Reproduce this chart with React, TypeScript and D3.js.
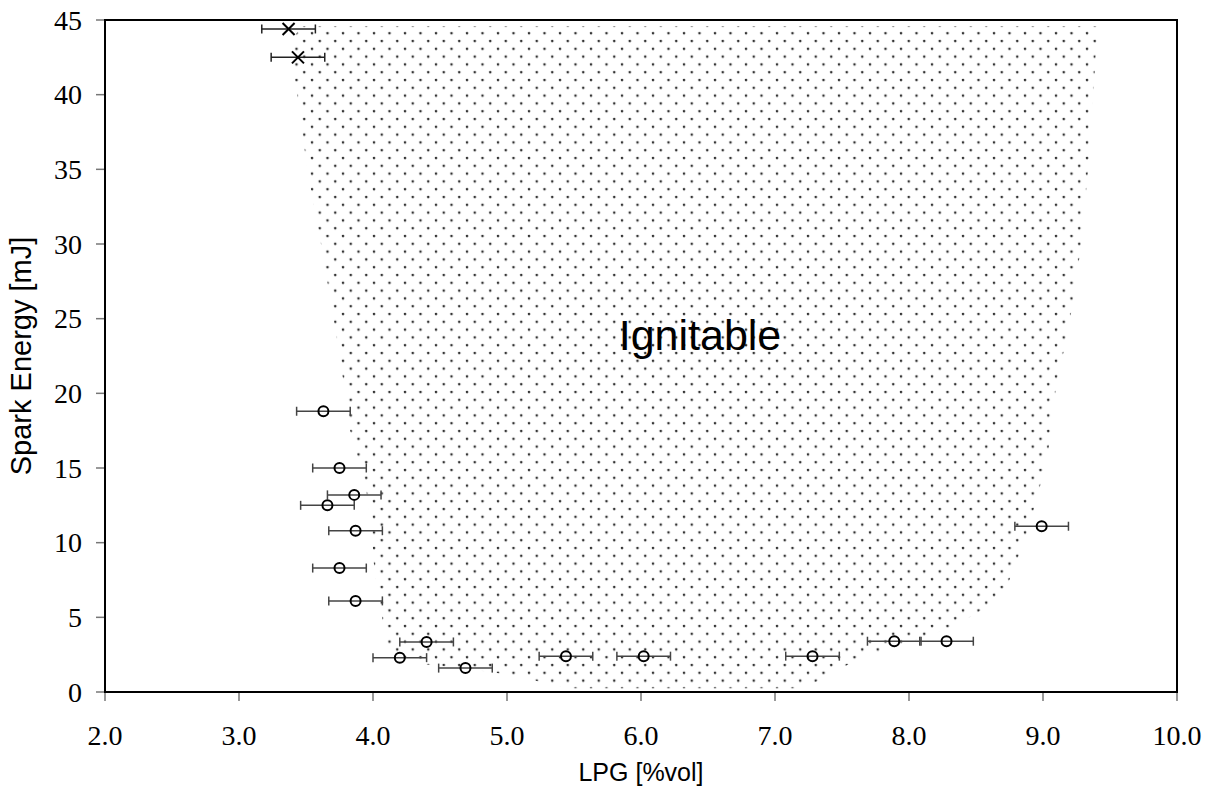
import * as d3 from 'd3';

// measured points (circles = not ignited at the limit)
const circleLpg = [3.63, 3.75, 3.86, 3.66, 3.87, 3.75, 3.87, 4.4, 4.2, 4.69, 5.44, 6.02, 7.28, 7.89, 8.28, 8.99];
const circleEnergy = [18.8, 15.0, 13.2, 12.5, 10.8, 8.3, 6.1, 3.35, 2.3, 1.6, 2.4, 2.4, 2.4, 3.4, 3.4, 11.1];
const crossLpg = [3.37, 3.44];
const crossEnergy = [44.4, 42.5];
const errHalf = 0.2;

// outline of the ignitable region
const boundaryLpg = [
  3.46, 3.38, 3.44, 3.51, 3.62, 3.72, 3.79, 3.83, 3.88, 3.94, 3.99, 4.01, 4.06, 4.09, 4.1, 4.16, 4.35, 4.65,
  5.07, 5.32, 5.49, 7.19, 7.34, 7.49, 7.71, 8.01, 8.31, 8.49, 8.6, 8.72, 8.79, 8.87, 8.93, 8.99, 9.04, 9.1,
  9.19, 9.28, 9.35, 9.4, 9.43,
];
const boundaryEnergy = [
  44.6, 43.3, 39.6, 35, 29.6, 24.2, 20.2, 17.5, 15.9, 14.2, 10.8, 8.2, 5.5, 3.5, 2.8, 2.3, 1.9, 1.6, 1.1, 0.5,
  0.25, 0.25, 0.8, 1.6, 2.5, 3.35, 4.3, 5.2, 5.8, 6.8, 8.5, 10.2, 12.2, 14.2, 16.2, 20.7, 24.2, 29.6, 36.3, 43.7,
  44.6,
];

const xTicks = [2, 3, 4, 5, 6, 7, 8, 9, 10];
const yTicks = [0, 5, 10, 15, 20, 25, 30, 35, 40, 45];

const W = 1215;
const H = 797;
const margin = { left: 105, right: 38, top: 20, bottom: 105 };

export default function App() {
  const x = d3.scaleLinear().domain([2, 10]).range([margin.left, W - margin.right]);
  const y = d3.scaleLinear().domain([0, 45]).range([H - margin.bottom, margin.top]);

  const region = d3
    .line<number>()
    .x((i) => x(boundaryLpg[i]))
    .y((i) => y(boundaryEnergy[i]))
    .curve(d3.curveLinearClosed)(boundaryLpg.map((_, i) => i));

  const x0 = x.range()[0];
  const x1 = x.range()[1];
  const y0 = y.range()[0];
  const y1 = y.range()[1];
  const serif = '"Liberation Serif", "Times New Roman", serif';
  const sans = '"Liberation Sans", Arial, sans-serif';

  const errBar = (cx: number, cy: number, key: string, color: string) => (
    <g key={key} stroke={color} strokeWidth={1.5}>
      <line x1={x(cx - errHalf)} x2={x(cx + errHalf)} y1={y(cy)} y2={y(cy)} />
      <line x1={x(cx - errHalf)} x2={x(cx - errHalf)} y1={y(cy) - 4.5} y2={y(cy) + 4.5} />
      <line x1={x(cx + errHalf)} x2={x(cx + errHalf)} y1={y(cy) - 4.5} y2={y(cy) + 4.5} />
    </g>
  );

  return (
    <svg
      width={W}
      height={H}
      style={{ position: 'absolute', left: 0, top: 0, background: '#fff' }}
    >
      <defs>
        <pattern id="dots" patternUnits="userSpaceOnUse" width={15.5} height={15.6}>
          <circle cx={2} cy={2} r={1.3} fill="#333" />
          <circle cx={9.75} cy={9.8} r={1.3} fill="#333" />
        </pattern>
      </defs>

      <path d={region ?? ''} fill="url(#dots)" stroke="none" />

      {/* ticks */}
      {yTicks.map((t) => (
        <g key={'y' + t}>
          <line x1={x0 - 9} x2={x0} y1={y(t)} y2={y(t)} stroke="#777" strokeWidth={1.5} />
          <text
            x={82}
            y={y(t)}
            dy="0.35em"
            textAnchor="end"
            fontFamily={serif}
            fontSize={28}
            fill="#000"
          >
            {t}
          </text>
        </g>
      ))}
      {xTicks.map((t) => (
        <g key={'x' + t}>
          <line x1={x(t)} x2={x(t)} y1={y0} y2={y0 + 9} stroke="#777" strokeWidth={1.5} />
          <text x={x(t)} y={745} textAnchor="middle" fontFamily={serif} fontSize={28} fill="#000">
            {t.toFixed(1)}
          </text>
        </g>
      ))}

      {/* frame */}
      <rect x={x0} y={y1} width={x1 - x0} height={y0 - y1} fill="none" stroke="#000" strokeWidth={2} />

      {/* error bars + markers */}
      {circleLpg.map((v, i) => errBar(v, circleEnergy[i], 'ec' + i, '#444'))}
      {crossLpg.map((v, i) => errBar(v, crossEnergy[i], 'ex' + i, '#222'))}
      {circleLpg.map((v, i) => (
        <circle
          key={'c' + i}
          cx={x(v)}
          cy={y(circleEnergy[i])}
          r={5}
          fill="none"
          stroke="#000"
          strokeWidth={2}
        />
      ))}
      {crossLpg.map((v, i) => {
        const cx = x(v);
        const cy = y(crossEnergy[i]);
        const s = 6;
        return (
          <g key={'x' + i} stroke="#000" strokeWidth={2}>
            <line x1={cx - s} x2={cx + s} y1={cy - s} y2={cy + s} />
            <line x1={cx - s} x2={cx + s} y1={cy + s} y2={cy - s} />
          </g>
        );
      })}

      <text x={700} y={350} textAnchor="middle" fontFamily={sans} fontSize={43} fill="#000">
        Ignitable
      </text>

      <text x={641} y={781} textAnchor="middle" fontFamily={sans} fontSize={25} fill="#000">
        LPG [%vol]
      </text>
      <text
        transform={`translate(31,${(y0 + y1) / 2}) rotate(-90)`}
        textAnchor="middle"
        fontFamily={sans}
        fontSize={29}
        fill="#000"
      >
        Spark Energy [mJ]
      </text>
    </svg>
  );
}
